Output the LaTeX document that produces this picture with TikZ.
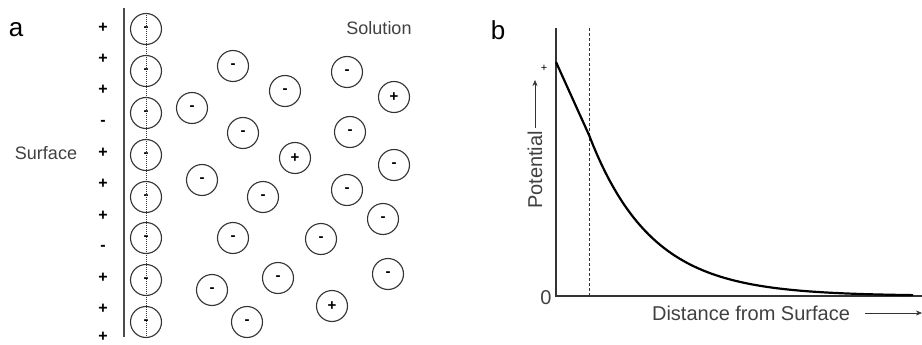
\documentclass[tikz,border=0pt]{standalone}
\usepackage{fontspec}
\setmainfont{Liberation Sans}
\usetikzlibrary{arrows.meta}

\begin{document}
\begin{tikzpicture}[x=1pt,y=-1pt,
  ion/.style={draw=black!80, line width=1.1pt, circle, minimum size=31pt, inner sep=0pt, font=\fontsize{15}{15}\selectfont\bfseries},
  sign/.style={font=\fontsize{16}{16}\selectfont\bfseries},
  lbl/.style={font=\fontsize{18}{18}\selectfont, text=black!75},
  blbl/.style={font=\fontsize{20}{20}\selectfont, text=black!75},
  tag/.style={font=\fontsize{26}{26}\selectfont},
  axis/.style={black!80, line width=1.1pt}]
\useasboundingbox (0,0) rectangle (922,345);

% panel a
\node[tag] (ta) at (16,30) {a};
\node[lbl] (surf) at (46,153) {Surface};
\node[lbl] (sol) at (379,28) {Solution};
\coordinate (wtop) at (124,8);
\coordinate (wbot) at (124,337);
\draw[black!70, line width=1.3pt] (wtop) -- (wbot);

% charges on the surface
\node[sign] (s1) at (103,28) {+};
\node[sign] (s2) at (103,59) {+};
\node[sign] (s3) at (103,90) {+};
\node[sign] (s4) at (103,123) {-};
\node[sign] (s5) at (103,153) {+};
\node[sign] (s6) at (103,184) {+};
\node[sign] (s7) at (103,216) {+};
\node[sign] (s8) at (103,248) {-};
\node[sign] (s9) at (103,278) {+};
\node[sign] (s10) at (103,309) {+};
\node[sign] (s11) at (103,337) {+};

% bound layer
\node[ion] (b1) at (146,29) {-};
\node[ion] (b2) at (146,71) {-};
\node[ion] (b3) at (146,113) {-};
\node[ion] (b4) at (146,155) {-};
\node[ion] (b5) at (146,197) {-};
\node[ion] (b6) at (146,238) {-};
\node[ion] (b7) at (146,280) {-};
\node[ion] (b8) at (146,322) {-};
\coordinate (dtop) at (146,13);
\coordinate (dbot) at (146,337);
\draw[black!80, densely dotted, line width=1pt] (dtop) -- (dbot);

% ions in solution
\node[ion] (i1) at (233,66) {-};
\node[ion] (i2) at (347,72) {-};
\node[ion] (i3) at (285,91) {-};
\node[ion] (i4) at (394,97) {+};
\node[ion] (i5) at (192,108) {-};
\node[ion] (i6) at (243,133) {-};
\node[ion] (i7) at (350,132) {-};
\node[ion] (i8) at (295,158) {+};
\node[ion] (i9) at (394,165) {-};
\node[ion] (i10) at (202,180) {-};
\node[ion] (i11) at (263,197) {-};
\node[ion] (i12) at (347,190) {-};
\node[ion] (i13) at (383,219) {-};
\node[ion] (i14) at (233,238) {-};
\node[ion] (i15) at (321,239) {-};
\node[ion] (i16) at (388,274) {-};
\node[ion] (i17) at (278,278) {-};
\node[ion] (i18) at (212,290) {-};
\node[ion] (i19) at (332,306) {+};
\node[ion] (i20) at (247,322) {-};

% panel b
\node[tag] (tb) at (498,30) {b};
\coordinate (orig) at (556,296);
\coordinate (ytop) at (556,28);
\coordinate (xend) at (922,296);
\draw[axis] (ytop) -- (orig) -- (xend);
\coordinate (stop) at (589,28);
\coordinate (sbot) at (589,296);
\draw[black!80, densely dashed, line width=0.6pt] (stop) -- (sbot);
\node[font=\fontsize{11}{11}\selectfont] (plus) at (544,68) {+};
\node[blbl] (zero) at (546,298) {0};
\node[blbl, rotate=90] (pot) at (535,170) {Potential};
\coordinate (pa) at (535,80);
\draw[black!80, -{Stealth[length=6pt,width=5pt]}] (pot.east) -- (pa);
\node[blbl] (dist) at (751,313) {Distance from Surface};
\coordinate (da) at (922,313);
\draw[black!80, -{Stealth[length=6pt,width=5pt]}] (dist.east) ++(12,0) -- (da);

% potential curve
\coordinate (p0) at (556,62);
\coordinate (p1) at (589,135);
\draw[line width=2.2pt, line join=round] (p0) -- (p1)
  -- plot[domain=589:913, samples=80, smooth] (\x, {296-161*exp(-(\x-589)/62)});
\end{tikzpicture}
\end{document}
